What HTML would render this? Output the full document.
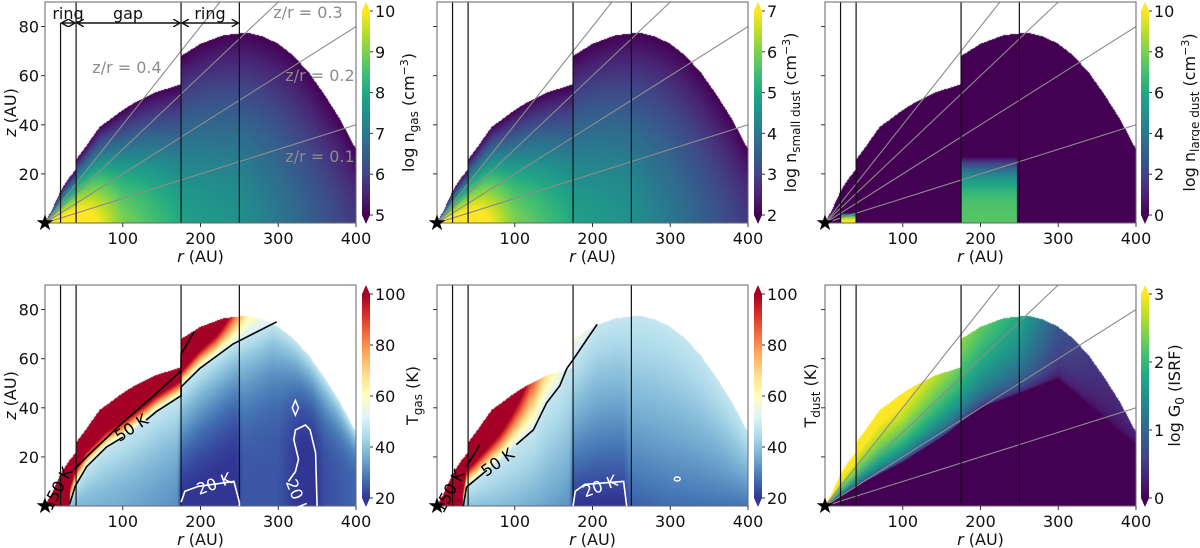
<!DOCTYPE html>
<html><head><meta charset="utf-8">
<style>
html,body{margin:0;padding:0;background:#fff;}
#wrap{position:relative;width:1200px;height:548px;overflow:hidden;font-family:"DejaVu Sans","Liberation Sans",sans-serif;}
canvas{position:absolute;}
svg{position:absolute;left:0;top:0;}
</style></head>
<body>
<div id="wrap">
<svg id="ov" width="1200" height="548"></svg>
</div>
<script>
// ---------- data ----------
const boundR=[0,10,20,30,40,40.5,50,70,100,115,140,160,174.9,175,200,230,260,280,300,320,340,360,380,395,400];
const boundZ=[0,6,13,18,22,26,30,39,46,49,53,55,56.5,68,73,76.5,77.5,76,73,68,61,52,42,33,30];
const midR=[0,20,40,60,100,175,176,250,300,400];
const midGas=[10.5,10.5,10.5,10.2,9.0,8.0,7.8,7.5,7.0,5.8];
const midSmall=[7.5,7.5,7.5,7.2,6.0,5.0,4.8,4.5,4.0,2.8];
const ringStart=[20,175];
const ringEnd=[40,247];
const ringPeak=[10,7.3];
const ringHeight=[4,27];
// Tgas
const tg50R=[32,38.6,53.5,79,100,130,143,173,175,175.1,199,242,298,400];
const tg50Z=[1,7.9,16,24,28,35,38.4,44.5,44.8,48.5,56,66,75,100];
const tg150R=[38,60,100,140,174.9,175,192];
const tg150Z=[15,22,34,45,55,62,71];
const tgKR=[0,175,220,260,300,400];
const tgKV=[8,8,6,1.5,1,1];
const tgMidR=[0,40,100,170,176,200,245,255,300,330,345,360,400];
const tgMidT=[40,38,36,32,19,19,19,24,24,19,19,23,26];
const tgPR=[0,175,300,400];
const tgPV=[1.2,1.6,3.5,4];
const tg20aR=[175,180,197,243,250,250];
const tg20aZ=[1.5,6,8,10,1.5,0];
const tg20bR=[350,348,341,335,322,320,326,322,313,331];
const tg20bZ=[0,21.6,31,33,31,27,19,14,10,0];
// Tdust
const td50R=[33.8,38,64,81.5,102,124,141,158,167,176,193,206,400];
const td50Z=[0,7.7,14.5,18.7,25,31,42,49,56,60,68,74,100];
const td150R=[38,55];
const td150Z=[16,25];
const tdKR=[0,60,120,175,400];
const tdKV=[10,6,2,1,1];
const tdMidR=[0,40,100,170,176,200,240,250,300,400];
const tdMidT=[42,40,38,32,19,19,19,25,27,28];
const td20R=[175,177.7,190,240,244];
const td20Z=[0,6,8.8,10,0];
// G0
const gsR=[0,40,100,150,200,250,300,400];
const gsZ=[0,8,18,28,40,46,52,25];
const gTopR=[0,100,175,176,250,300,350,400];
const gTopV=[3.5,3.2,2.3,2.5,1.8,0.8,0.45,0.3];
const ringLines=[20,40,175,250];
const zrSlopes=[0.1,0.2,0.3,0.4];
const xTicks=[100,200,300,400];
const yTicks=[20,40,60,80];

const VIR=['#440154','#482475','#414487','#355f8d','#2a788e','#21918c','#22a884','#44bf70','#7ad151','#bddf26','#fde725'];
const RDY=['#313695','#4575b4','#74add1','#abd9e9','#e0f3f8','#ffffbf','#fee090','#fdae61','#f46d43','#d73027','#a50026'];

function interp(xs,ys,x){
  if(x<=xs[0])return ys[0];
  for(let i=1;i<xs.length;i++){if(x<=xs[i]){const d=xs[i]-xs[i-1];const t=d>0?(x-xs[i-1])/d:1;return ys[i-1]+(ys[i]-ys[i-1])*t;}}
  return ys[ys.length-1];
}
function hex(h){return [parseInt(h.substr(1,2),16),parseInt(h.substr(3,2),16),parseInt(h.substr(5,2),16)];}
const VIRc=VIR.map(hex),RDYc=RDY.map(hex);
function cmap(c,t){t=Math.max(0,Math.min(1,t));const f=t*(c.length-1);const i=Math.min(c.length-2,Math.floor(f));const u=f-i;return [0,1,2].map(k=>c[i][k]+(c[i+1][k]-c[i][k])*u);}
function zb(r){return interp(boundR,boundZ,r);}

function vGas(r,z,mids,top){const m=interp(midR,mids,r);const f=Math.pow(Math.max(0,z/zb(r)),1.6);return top+(m-top)*(1-f);}
function vLarge(r,z){for(let i=0;i<ringStart.length;i++){if(r>=ringStart[i]&&r<=ringEnd[i]){const q=z/ringHeight[i];if(q<1)return ringPeak[i]*(1-Math.pow(q,3));}}return -1;}
function vT(r,z,cR,cZ,kR,kV,mR,mT,pR,pV){
  const zc=Math.min(interp(cR,cZ,r),zb(r)+0.001);
  if(z>zc||r<cR[0])return 50+(z-zc)*interp(kR,kV,r)+(r<cR[0]?60:0);
  const tm=interp(mR,mT,r);const p=pR?interp(pR,pV,r):1;
  return tm+(48-tm)*Math.pow(z/zc,p);
}
function vG(r,z){const zs=interp(gsR,gsZ,r);if(z<=zs)return -0.2;const top=interp(gTopR,gTopV,r);const b=zb(r);return top*Math.pow(Math.min(1,(z-zs)/Math.max(1,b-zs)),0.4);}

const panels=[
 {id:'n-gas',L:45,T:2,R:356,B:223,vmin:5,vmax:10,cm:VIRc,cols:VIR,ticks:[5,6,7,8,9,10],f:(r,z)=>vGas(r,z,midGas,5),cbx:362,lab:['log n','gas',' (cm','−3',')'],lx:408},
 {id:'n-small-dust',L:437,T:2,R:748,B:223,vmin:2,vmax:7,cm:VIRc,cols:VIR,ticks:[2,3,4,5,6,7],f:(r,z)=>vGas(r,z,midSmall,2),cbx:754,lab:['log n','small dust',' (cm','−3',')'],lx:790},
 {id:'n-large-dust',L:825,T:2,R:1136,B:223,vmin:0,vmax:10,cm:VIRc,cols:VIR,ticks:[0,2,4,6,8,10],f:vLarge,cbx:1141,lab:['log n','large dust',' (cm','−3',')'],lx:1189},
 {id:'t-gas',L:45,T:285,R:356,B:506,vmin:20,vmax:100,cm:RDYc,cols:RDY,ticks:[20,40,60,80,100],f:(r,z)=>vT(r,z,tg50R,tg50Z,tgKR,tgKV,tgMidR,tgMidT,tgPR,tgPV),cbx:362,lab:['T','gas',' (K)','',''],lx:412},
 {id:'t-dust',L:437,T:285,R:748,B:506,vmin:20,vmax:100,cm:RDYc,cols:RDY,ticks:[20,40,60,80,100],f:(r,z)=>vT(r,z,td50R,td50Z,tdKR,tdKV,tdMidR,tdMidT,null,null),cbx:754,lab:['T','dust',' (K)','',''],lx:810},
 {id:'g0',L:825,T:285,R:1136,B:506,vmin:0,vmax:3,cm:VIRc,cols:VIR,ticks:[0,1,2,3],f:vG,cbx:1141,lab:['log G','0',' (ISRF)','',''],lx:1174}
];

const wrap=document.getElementById('wrap');
const ov=document.getElementById('ov');
const NS='http://www.w3.org/2000/svg';
function mk(tag,attrs,parent,txt){const e=document.createElementNS(NS,tag);for(const k in attrs)e.setAttribute(k,attrs[k]);if(txt!==undefined)e.textContent=txt;(parent||ov).appendChild(e);return e;}

const defs=mk('defs',{});



panels.forEach((P,pi)=>{
  const W=P.R-P.L,H=P.B-P.T;
  const X=r=>P.L+r*W/400, Y=z=>P.B-z*H/90;
  const cv=document.createElement('canvas');
  cv.width=W;cv.height=H;cv.style.left=P.L+'px';cv.style.top=P.T+'px';
  
  
  wrap.insertBefore(cv,ov);
  const ctx=cv.getContext('2d');const img=ctx.createImageData(W,H);
  for(let px=0;px<W;px++){const r=(px+0.5)/W*400;const b=zb(r);
    for(let py=0;py<H;py++){const z=(H-py-0.5)/H*90;if(z>b)continue;
      const v=P.f(r,z);const c=cmap(P.cm,(v-P.vmin)/(P.vmax-P.vmin));const o=(py*W+px)*4;
      img.data[o]=c[0];img.data[o+1]=c[1];img.data[o+2]=c[2];img.data[o+3]=255;}}
  ctx.putImageData(img,0,0);

  const g=mk('g',{});
  
  
  const cp=mk('clipPath',{id:'clip'+pi},defs);
  
  
  const cpr=mk('rect',{x:P.L,y:P.T,width:W,height:H},cp);
  
  

  if(pi!==3&&pi!==4){zrSlopes.forEach(s=>{
    const rEnd=Math.min(400,90/s);
    const ln=mk('line',{x1:X(0),y1:Y(0),x2:X(rEnd),y2:Y(rEnd*s),stroke:'#8c8c8c','stroke-width':1.1,'clip-path':'url(#clip'+pi+')'},g);
    
    
  });}
  ringLines.forEach(rv=>{
    const ln=mk('line',{x1:X(rv),y1:(pi===0&&rv===20)?23:P.T,x2:X(rv),y2:P.B,stroke:'#111','stroke-width':1.2},g);
    
    
  });
  const fr=mk('rect',{x:P.L,y:P.T,width:W,height:H,fill:'none',stroke:'#666','stroke-width':1},g);
  
  
  xTicks.forEach(t=>{
    const tk=mk('line',{x1:X(t),y1:P.B,x2:X(t),y2:P.B+4,stroke:'#333'},g);
    
    
    const tl=mk('text',{x:X(t),y:P.B+21,'text-anchor':'middle','font-size':16,fill:'#111'},g,String(t));
    
    
  });
  const xl=mk('text',{x:(P.L+P.R)/2,y:P.B+39,'text-anchor':'middle','font-size':16,fill:'#111'},g);
  
  
  mk('tspan',{'font-style':'italic'},xl,'r');mk('tspan',{},xl,' (AU)');
  yTicks.forEach(t=>{
    const tk=mk('line',{x1:P.L-4,y1:Y(t),x2:P.L,y2:Y(t),stroke:'#333'},g);
    
    
    if(pi===0||pi===3){
      const tl=mk('text',{x:P.L-6,y:Y(t)+6,'text-anchor':'end','font-size':16,fill:'#111'},g,String(t));
      
      
    }
  });
  if(pi===0||pi===3){
    const yl=mk('text',{x:0,y:0,'text-anchor':'middle','font-size':16,fill:'#111',transform:'translate(16,'+((P.T+P.B)/2)+') rotate(-90)'},g);
    
    
    mk('tspan',{'font-style':'italic'},yl,'z');mk('tspan',{},yl,' (AU)');
  }
  const st=mk('text',{x:X(0),y:Y(0)+7,'text-anchor':'middle','font-size':22,fill:'#000'},g,'★');
  
  

  const cbT=P.T+9,cbB=P.B-8,cx=P.cbx,cw=8;
  const gr=mk('linearGradient',{id:'grad'+pi,x1:0,y1:1,x2:0,y2:0},defs);
  
  
  P.cols.forEach((c,i)=>{const s=mk('stop',{offset:(i/(P.cols.length-1)),'stop-color':c},gr);
    
    });
  const cb=mk('rect',{x:cx,y:cbT,width:cw,height:cbB-cbT,fill:'url(#grad'+pi+')'},g);
  
  
  const tu=mk('polygon',{points:cx+','+cbT+' '+(cx+cw)+','+cbT+' '+(cx+cw/2)+','+(P.T)},g);
  tu.setAttribute('fill',P.cols[P.cols.length-1]);
  
  
  const td=mk('polygon',{points:cx+','+cbB+' '+(cx+cw)+','+cbB+' '+(cx+cw/2)+','+(P.B+1)},g);
  td.setAttribute('fill',P.cols[0]);
  
  
  P.ticks.forEach(t=>{
    const yy=cbB-(t-P.vmin)/(P.vmax-P.vmin)*(cbB-cbT);
    const tk=mk('line',{x1:cx+cw,y1:yy,x2:cx+cw+3,y2:yy,stroke:'#333'},g);
    
    
    const tl=mk('text',{x:cx+cw+5,y:yy+6,'font-size':16,fill:'#111'},g,String(t));
    
    
  });
  const cl=mk('text',{x:0,y:0,'text-anchor':'middle','font-size':16,fill:'#111',transform:'translate('+(P.lx+6)+','+((P.T+P.B)/2)+') rotate(-90)'},g);
  
  
  mk('tspan',{},cl,P.lab[0]);
  mk('tspan',{'font-size':12,dy:4},cl,P.lab[1]);
  mk('tspan',{dy:-4},cl,P.lab[2]);
  if(P.lab[3]){mk('tspan',{'font-size':11,dy:-6},cl,P.lab[3]);mk('tspan',{dy:6},cl,P.lab[4]);}

  P.X=X;P.Y=Y;P.g=g;
});

function poly(P,rs,zs,color,name,from,to){
  const pts=[];for(let i=from;i<to;i++)pts.push(P.X(rs[i]).toFixed(1)+','+P.Y(zs[i]).toFixed(1));
  const p=mk('polyline',{points:pts.join(' '),fill:'none',stroke:color,'stroke-width':1.6},P.g);
  
  
}
function clabel(P,txt,r,z,ang,color){
  const t=mk('text',{x:0,y:0,'text-anchor':'middle','font-size':16,fill:color,transform:'translate('+P.X(r)+','+(P.Y(z)+5)+') rotate('+ang+')'},P.g,txt);
  
  
}
const P4=panels[3];
poly(P4,tg50R,tg50Z,'#000','contour-50k',0,5);
poly(P4,tg50R,tg50Z,'#000','contour-50k',5,13);
clabel(P4,'50 K',115,32,-33,'#000');
poly(P4,tg150R,tg150Z,'#000','contour-150k',0,7);
clabel(P4,'150 K',22,8,-62,'#000');
poly(P4,tg20aR,tg20aZ,'#fff','contour-20k',0,6);
poly(P4,tg20bR,tg20bZ,'#fff','contour-20k',0,9);
clabel(P4,'20 K',220,9,-20,'#fff');
clabel(P4,'20 K',318,5,68,'#fff');
const dm=mk('polygon',{points:[[318,40],[322,43],[326,40],[322,37]].map(p=>P4.X(p[0])+','+P4.Y(p[1])).join(' '),fill:'none',stroke:'#fff','stroke-width':1.5},P4.g);


const P5=panels[4];
poly(P5,td50R,td50Z,'#000','contour-50k',0,3);
poly(P5,td50R,td50Z,'#000','contour-50k',4,12);
clabel(P5,'50 K',82,18,-35,'#000');
poly(P5,td150R,td150Z,'#000','contour-150k',0,2);
clabel(P5,'150 K',22,7,-62,'#000');
poly(P5,td20R,td20Z,'#fff','contour-20k',0,5);
clabel(P5,'20 K',212,8,-20,'#fff');
const el=mk('ellipse',{cx:P5.X(309),cy:P5.Y(11),rx:3,ry:2,fill:'none',stroke:'#fff','stroke-width':1.4},P5.g);



const P1=panels[0];
function ann(txt,x,y,col,name){const t=mk('text',{x:x,y:y,'text-anchor':'middle','font-size':16,fill:col},P1.g,txt);
  
  }
ann('ring',68,19,'#111','ring-label-inner');
ann('gap',128,19,'#111','gap-label');
ann('ring',210,19,'#111','ring-label-outer');
ann('z/r = 0.3',308,18,'#8c8c8c','zr-label-0.3');
ann('z/r = 0.4',127,73,'#8c8c8c','zr-label-0.4');
ann('z/r = 0.2',320,81,'#8c8c8c','zr-label-0.2');
ann('z/r = 0.1',320,162,'#8c8c8c','zr-label-0.1');
const mA=mk('marker',{id:'ah',markerWidth:8,markerHeight:8,refX:7,refY:4,orient:'auto-start-reverse',markerUnits:'userSpaceOnUse'},defs);


const mp=mk('path',{d:'M0,0 L7,4 L0,8',fill:'none',stroke:'#111','stroke-width':1.4},mA);


[[20,40],[40,175],[175,250]].forEach(s=>{
  const a=mk('line',{x1:P1.X(s[0])+1,y1:23,x2:P1.X(s[1])-1,y2:23,stroke:'#111','stroke-width':1.4,'marker-start':'url(#ah)','marker-end':'url(#ah)'},P1.g);
  
  
});
</script>
</body></html>
